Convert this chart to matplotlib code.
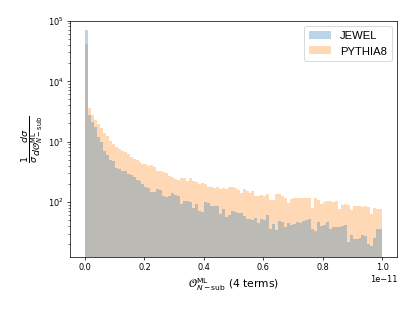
import numpy as np
import matplotlib
matplotlib.use("Agg")
import matplotlib.pyplot as plt

# bin contents (100 bins on [0, 1e-11])
jewel = [69000, 2700, 2100, 1750, 1200, 1000, 700, 600, 490, 470,
         360, 350, 330, 320, 290, 285, 260, 230, 220, 200,
         180, 170, 145, 148, 163, 160, 127, 120, 128, 140,
         130, 128, 92, 103, 105, 99, 79, 92, 70, 68,
         99, 97, 86, 85, 87, 63, 77, 57, 62, 70,
         68, 67, 66, 58, 53, 52, 51, 55, 45, 52,
         50, 60, 36, 43, 35, 48, 46, 39, 45, 42,
         43, 46, 45, 48, 50, 52, 36, 33, 46, 40,
         41, 46, 36, 38, 39, 38, 40, 41, 22, 28,
         24, 24, 25, 29, 27, 20, 18.5, 25, 36, 36]
pythia = [41500, 3600, 2750, 2300, 1950, 1650, 1400, 1250, 1030, 910,
          810, 750, 690, 670, 620, 560, 515, 490, 455, 425,
          420, 395, 410, 380, 330, 320, 310, 305, 270, 260,
          240, 235, 245, 250, 220, 245, 220, 218, 200, 210,
          195, 180, 175, 170, 178, 165, 168, 165, 175, 178,
          170, 160, 140, 165, 150, 142, 150, 125, 128, 130,
          127, 135, 110, 108, 138, 135, 125, 118, 98, 112,
          115, 117, 116, 118, 117, 115, 80, 118, 110, 92,
          100, 102, 103, 100, 102, 76, 88, 92, 90, 74,
          85, 86, 85, 84, 86, 84, 64, 80, 78, 76]
labels = ["JEWEL", "PYTHIA8"]

edges = np.linspace(0, 1e-11, len(jewel) + 1)
centers = 0.5 * (edges[1:] + edges[:-1])

fig = plt.figure(figsize=(6.4, 4.8), dpi=415 / 6.4)
ax = fig.add_axes([0.169, 0.174, 0.788, 0.759])

# pythia underneath, jewel on top -> grey overlap
ax.hist(centers, bins=edges, weights=pythia, alpha=0.3, histtype="stepfilled",
        log=True, color="C1", label=labels[1], zorder=1)
ax.hist(centers, bins=edges, weights=jewel, alpha=0.3, histtype="stepfilled",
        log=True, color="C0", label=labels[0], zorder=2)

ax.set_ylim(12.4, 1e5)
ax.tick_params(labelsize=9)
off = ax.xaxis.get_offset_text()
off.set_fontsize(9)
off.set_horizontalalignment("right")
ax.set_xlabel(r"$\mathcal{O}^{\rm ML}_{N-\rm sub}$ (4 terms)", fontsize=12)
ax.set_ylabel(r"$\frac{1}{\sigma}\frac{d\sigma}{d\mathcal{O}^{\rm ML}_{N-\rm sub}}$",
              fontsize=15)
h, l = ax.get_legend_handles_labels()
ax.legend(h[::-1], l[::-1], loc="upper right",
          prop={"family": "Liberation Sans", "size": 12.5})

fig.savefig("out.png", dpi=415 / 6.4)
